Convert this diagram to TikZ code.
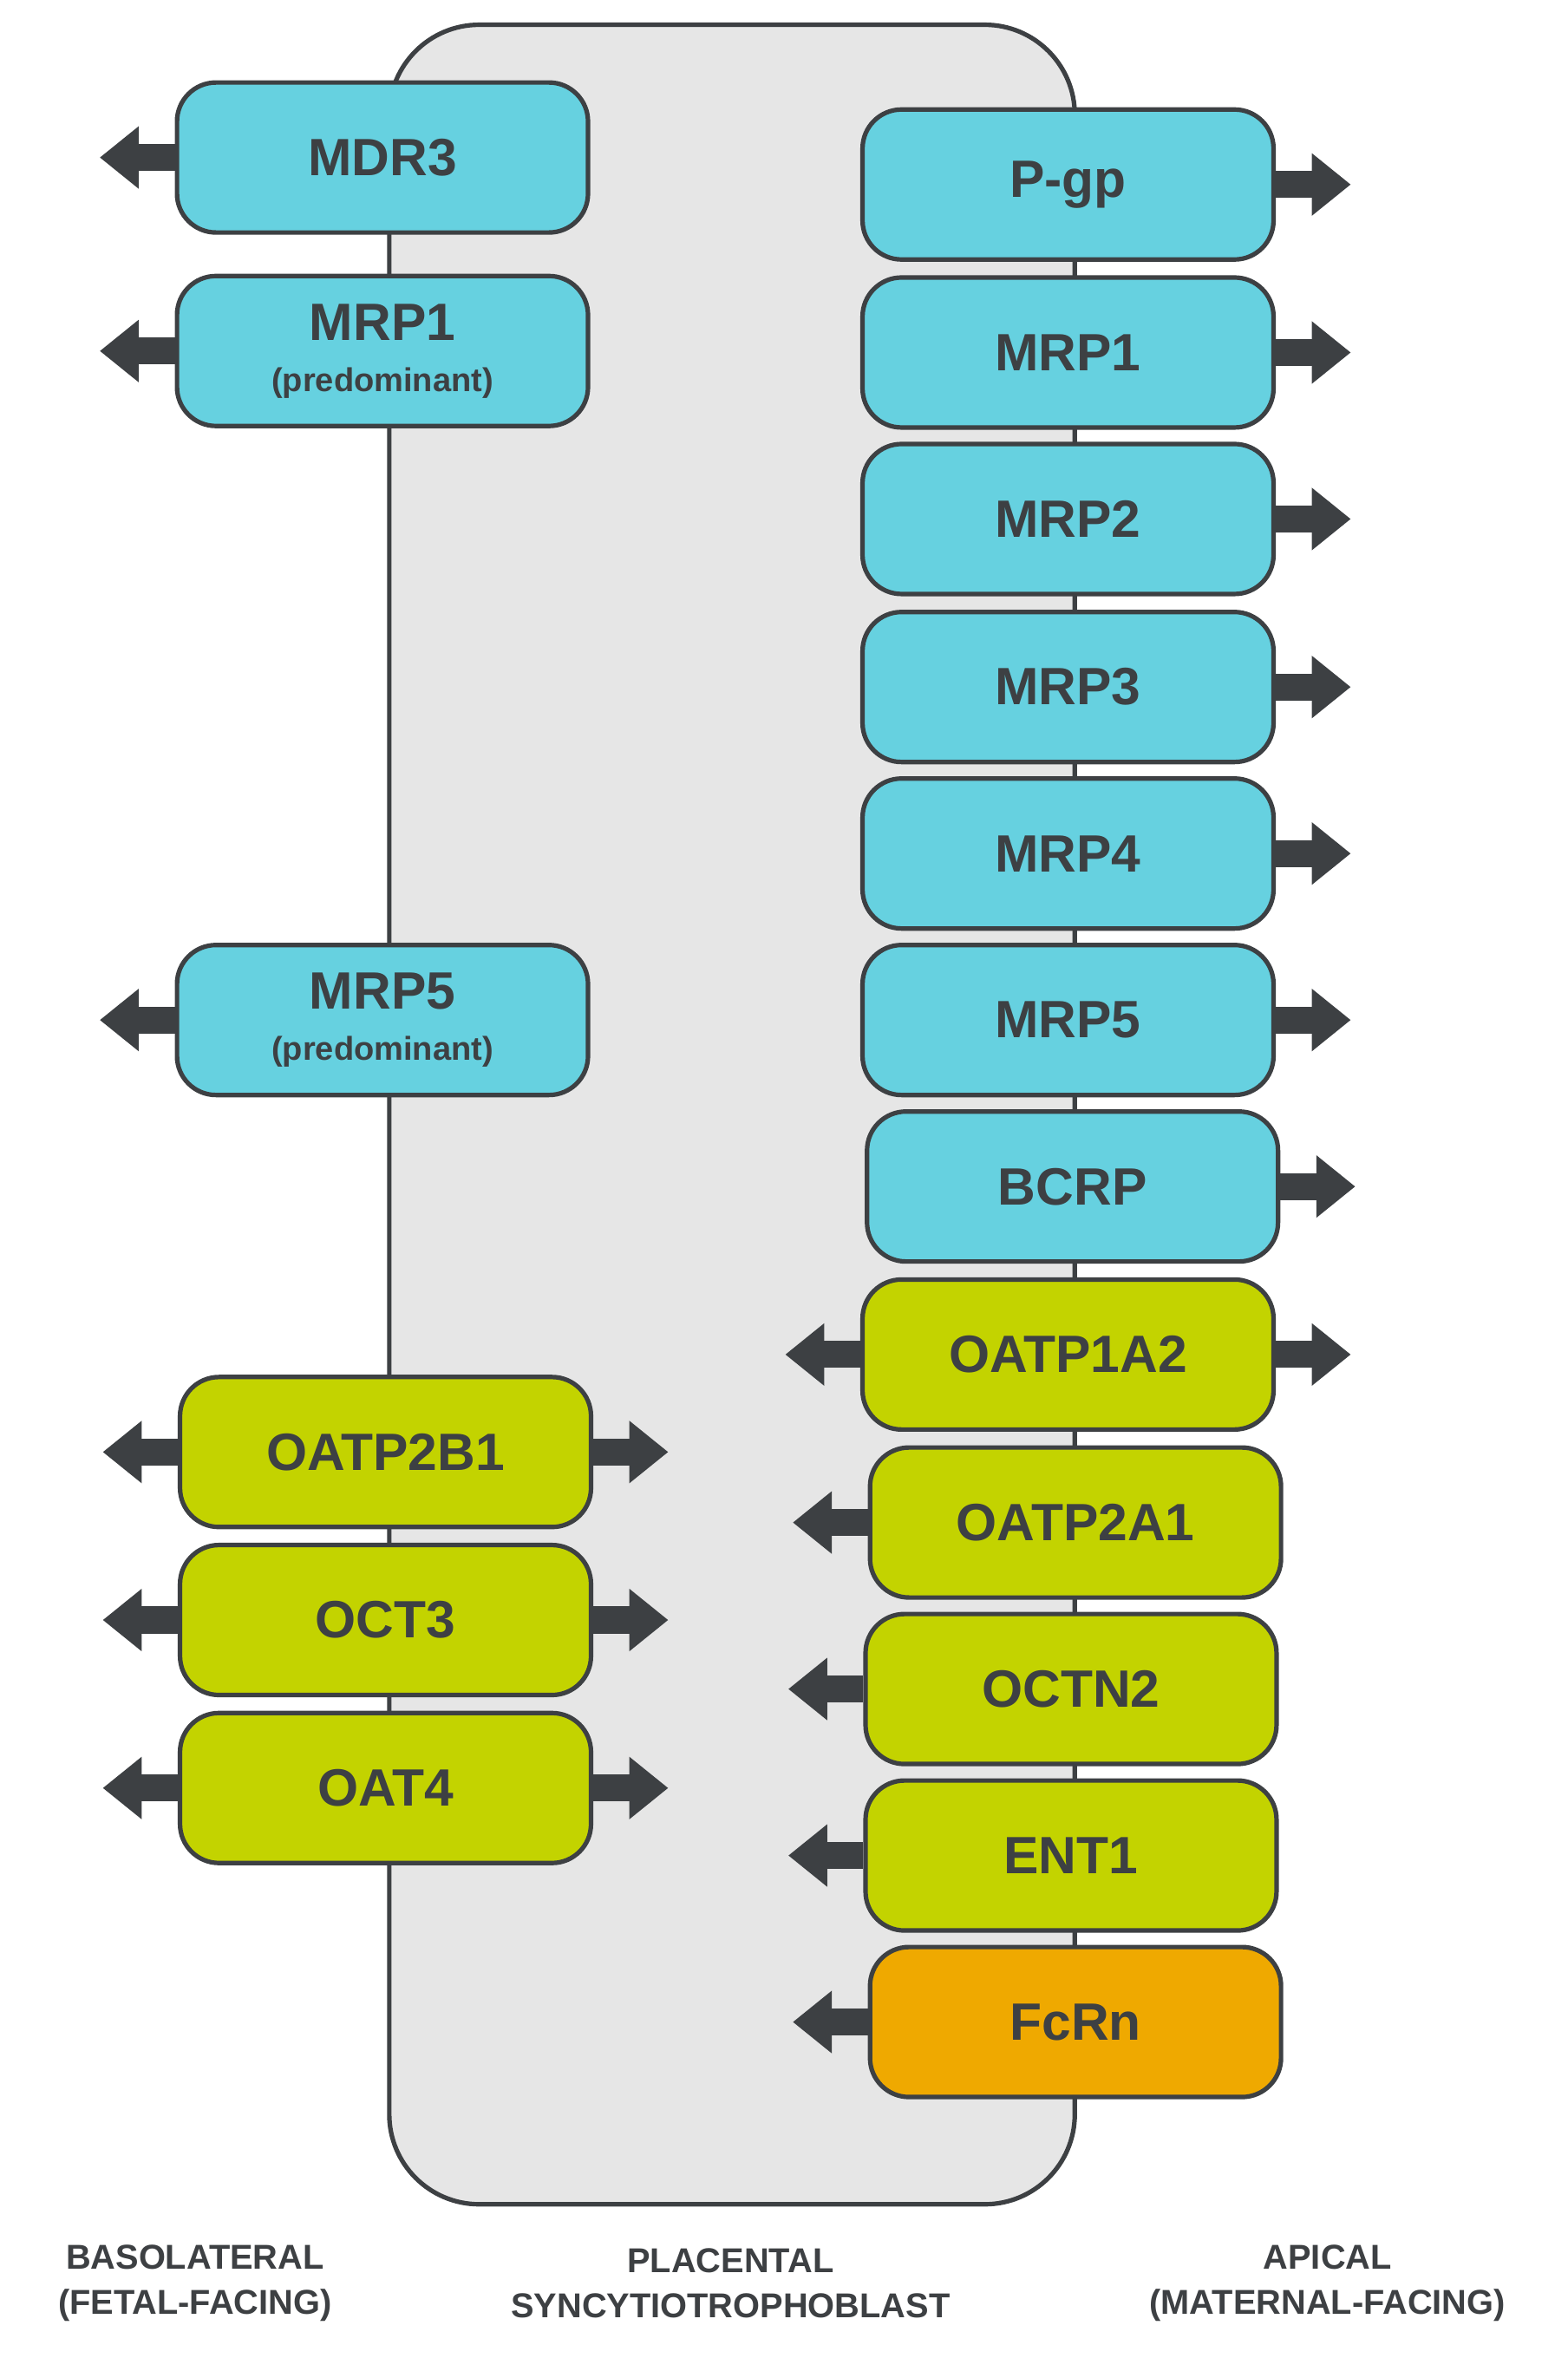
\documentclass[tikz,border=0pt]{standalone}
\usepackage{fontspec}
\setmainfont{Liberation Sans}
\usetikzlibrary{arrows.meta}
\definecolor{cy}{HTML}{66D1E0}
\definecolor{gr}{HTML}{C3D300}
\definecolor{og}{HTML}{EFA900}
\definecolor{dk}{HTML}{3D4043}
\definecolor{bg}{HTML}{E6E6E6}
\begin{document}
\begin{tikzpicture}[x=1pt,y=-1pt,
 box/.style={draw=dk,line width=3pt,rounded corners=26pt,minimum width=274pt,minimum height=100pt,inner sep=0pt,text=dk,font=\fontsize{35}{38}\selectfont\bfseries,align=center},
 sub/.style={font=\fontsize{22}{24}\selectfont\bfseries},
 ar/.style={draw=dk,line width=18pt,-{Triangle[length=26pt,width=40pt]}},
 lab/.style={text=dk,font=\fontsize{23}{30}\selectfont\bfseries,align=center}]
\useasboundingbox (0,0) rectangle (1045,1572);
\node[draw=dk,line width=3pt,fill=bg,rounded corners=60pt,minimum width=457pt,minimum height=1453pt,anchor=north west] (cell) at (258,15) {};
% left
\node[box,fill=cy] (L1) at (255,105) {MDR3};
\node[box,fill=cy] (L2) at (255,234) {MRP1\\[-4pt]{\fontsize{22}{24}\selectfont (predominant)}};
\node[box,fill=cy] (L3) at (255,680) {MRP5\\[-4pt]{\fontsize{22}{24}\selectfont (predominant)}};
\node[box,fill=gr] (L4) at (257,968) {OATP2B1};
\node[box,fill=gr] (L5) at (257,1080) {OCT3};
\node[box,fill=gr] (L6) at (257,1192) {OAT4};
\foreach \n in {L1,L2,L3,L4,L5,L6}{\draw[ar] (\n.west) -- ++(-50,0);}
\foreach \n in {L4,L5,L6}{\draw[ar] (\n.east) -- ++(50,0);}
% right
\node[box,fill=cy] (R1) at (712,123) {P-gp};
\node[box,fill=cy] (R2) at (712,235) {MRP1};
\node[box,fill=cy] (R3) at (712,346) {MRP2};
\node[box,fill=cy] (R4) at (712,458) {MRP3};
\node[box,fill=cy] (R5) at (712,569) {MRP4};
\node[box,fill=cy] (R6) at (712,680) {MRP5};
\node[box,fill=cy] (R7) at (715,791) {BCRP};
\node[box,fill=gr] (R8) at (712,903) {OATP1A2};
\node[box,fill=gr] (R9) at (717,1015) {OATP2A1};
\node[box,fill=gr] (R10) at (714,1126) {OCTN2};
\node[box,fill=gr] (R11) at (714,1237) {ENT1};
\node[box,fill=og] (R12) at (717,1348) {FcRn};
\foreach \n in {R1,R2,R3,R4,R5,R6,R7,R8}{\draw[ar] (\n.east) -- ++(50,0);}
\foreach \n in {R8,R9,R10,R11,R12}{\draw[ar] (\n.west) -- ++(-50,0);}
\node[lab] (t1) at (130,1522) {BASOLATERAL\\(FETAL-FACING)};
\node[lab] (t2) at (487,1522) {PLACENTAL\\SYNCYTIOTROPHOBLAST};
\node[lab] (t3) at (885,1522) {APICAL\\(MATERNAL-FACING)};
\end{tikzpicture}
\end{document}
